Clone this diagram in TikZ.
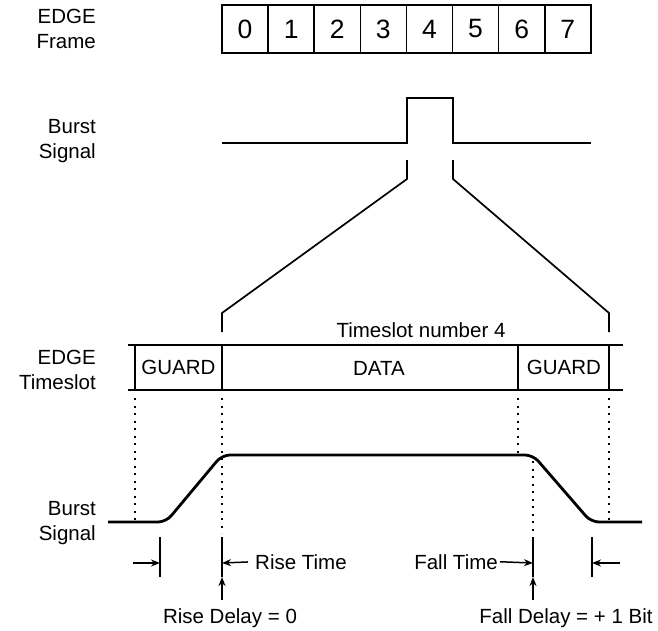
\documentclass[tikz,border=0pt]{standalone}
\usepackage{fontspec}
\setmainfont{Liberation Sans}
\usetikzlibrary{arrows.meta}
\begin{document}
\begin{tikzpicture}[>={Stealth[length=9pt,width=7pt]},x=1pt,y=-1pt,
  lbl/.style={font=\fontsize{20.5}{25}\selectfont,inner sep=0pt},
  side/.style={lbl,align=right,anchor=east},
  cell/.style={draw,line width=1.6pt,minimum width=46.1pt,minimum height=48pt,inner sep=0pt,font=\fontsize{26.5}{30}\selectfont},
  pen/.style={line width=1.7pt},
  bar/.style={line width=2.4pt},
  sig/.style={line width=2.8pt,rounded corners=8pt},
  guide/.style={line width=1.6pt,dash pattern=on 2.2pt off 5.3pt},
  dim/.style={->,line width=1.5pt}]
\useasboundingbox (0,0) rectangle (658,630);

\node[side] (frame) at (96,29) {EDGE\\Frame};
\node[side] (burst) at (96,141) {Burst\\Signal};
\node[side] (slot) at (96,370) {EDGE\\Timeslot};
\node[side] (signal) at (96,523) {Burst\\Signal};

\foreach \i in {0,...,7}
  \node[cell] (f\i) at ({245.05+46.1*\i},29) {\i};

\draw[pen] (222,143) -- (407,143) -- (407,98) -- (453,98) -- (453,143) -- (591,143);
\draw[pen] (407,160) -- (407,179) -- (222,313) -- (222,332);
\draw[pen] (453,160) -- (453,179) -- (609,313) -- (609,332);

\draw[pen] (128,345) -- (623,345) (128,390) -- (623,390);
\draw[bar] (135,345) -- (135,390) (222,345) -- (222,390) (518,345) -- (518,390) (609,345) -- (609,390);
\node[lbl,anchor=base] (tsn) at (421,337) {Timeslot number 4};
\node[lbl,anchor=base] (guard1) at (178.5,374) {GUARD};
\node[lbl,anchor=base] (data) at (379,375) {DATA};
\node[lbl,anchor=base] (guard2) at (564,374) {GUARD};

\draw[guide] (135,398) -- (135,522);
\draw[guide] (222,398) -- (222,533);
\draw[guide] (518,398) -- (518,455);
\draw[guide] (533,461) -- (533,532);
\draw[guide] (609,398) -- (609,522);

\draw[sig] (108,522) -- (166,522) -- (222,455) -- (533,455) -- (591,522) -- (642,522);

\foreach \x in {160,222,533,592}
  \draw[pen] (\x,537) -- (\x,577);
\coordinate (risestart) at (160,563);
\coordinate (riseend) at (222,563);
\coordinate (fallstart) at (533,563);
\coordinate (fallend) at (592,563);

\node[lbl,anchor=base west] (risetime) at (255,569) {Rise Time};
\node[lbl,anchor=base east] (falltime) at (498,569) {Fall Time};
\node[lbl,anchor=base] (risedelay) at (230,623) {Rise Delay = 0};
\node[lbl,anchor=base] (falldelay) at (566,623) {Fall Delay = + 1 Bit};

\draw[dim] (133,563) -- (risestart);
\draw[dim,shorten <=7pt] (risetime.west) -- (riseend);
\draw[dim,shorten <=2pt] (falltime.east) -- (fallstart);
\draw[dim] (620,563) -- (fallend);
\draw[dim] (222,600) -- (222,577);
\draw[dim] (533,600) -- (533,577);

\end{tikzpicture}
\end{document}
